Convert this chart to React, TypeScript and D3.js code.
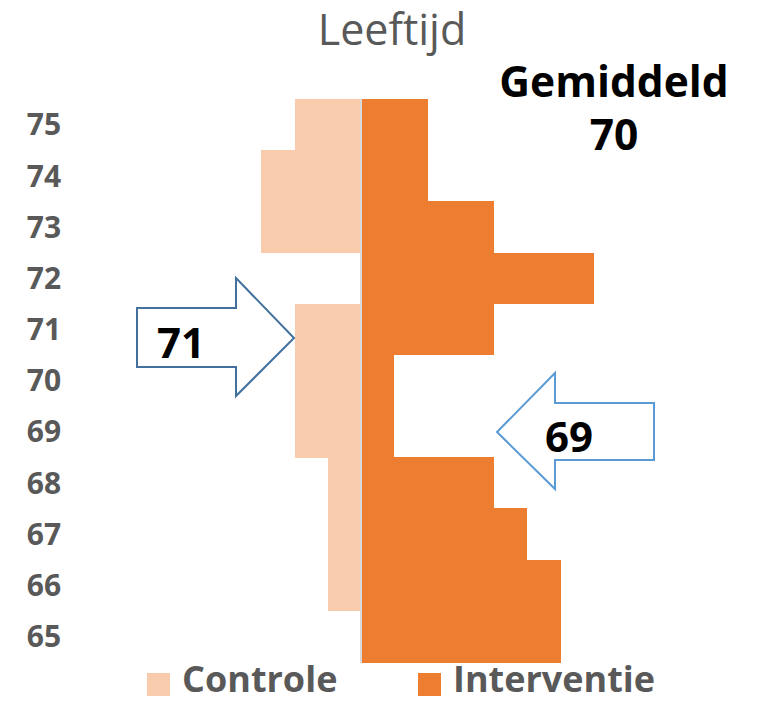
import * as d3 from "d3";

const WIDTH = 760;
const HEIGHT = 704;

const ages = [75, 74, 73, 72, 71, 70, 69, 68, 67, 66, 65];
const controle = [2, 3, 3, 0, 2, 2, 2, 1, 1, 1, 0];
const interventie = [2, 2, 4, 7, 4, 1, 1, 4, 5, 6, 6];

const seriesNames = ["Controle", "Interventie"];
const seriesColors = ["#F8CBAD", "#ED7D31"];

const title = "Leeftijd";
const meanLabel = "Gemiddeld";
const meanAll = "70";
const meanControle = "71";
const meanInterventie = "69";

const FONT = "'Open Sans', 'DejaVu Sans', sans-serif";
const GRAY = "#595959";

const Arrow = ({
  pts,
  stroke,
}: {
  pts: [number, number][];
  stroke: string;
}) => (
  <path
    d={d3.line()(pts) + "Z"}
    fill="#fff"
    stroke={stroke}
    strokeWidth={2}
    strokeLinejoin="miter"
  />
);

export default function App() {
  const x = d3
    .scaleLinear()
    .domain([-8, 8])
    .range([361 - 8 * 33.25, 361 + 8 * 33.25]);

  const y = d3
    .scaleBand<number>()
    .domain(ages)
    .range([99, 662])
    .padding(0);

  const x0 = x(0);

  return (
    <svg
      width={WIDTH}
      height={HEIGHT}
      style={{ position: "absolute", left: 0, top: 0 }}
      fontFamily={FONT}
    >
      <rect width={WIDTH} height={HEIGHT} fill="#fff" />

      {/* title */}
      <text x={392} y={45} textAnchor="middle" fontSize={43} fill={GRAY}>
        {title}
      </text>

      {/* bars */}
      <g shapeRendering="crispEdges">
        {ages.map((a, i) => (
          <g key={a}>
            {controle[i] > 0 && (
              <rect
                x={x(-controle[i])}
                y={y(a)!}
                width={x0 - x(-controle[i]) - 1}
                height={y.bandwidth() + 0.5}
                fill={seriesColors[0]}
              />
            )}
            {interventie[i] > 0 && (
              <rect
                x={x0 + 1}
                y={y(a)!}
                width={x(interventie[i]) - x0 - 1}
                height={y.bandwidth() + 0.5}
                fill={seriesColors[1]}
              />
            )}
          </g>
        ))}
      </g>

      {/* centre axis */}
      <line
        x1={x0}
        x2={x0}
        y1={99}
        y2={663}
        stroke="#D9D9D9"
        strokeWidth={2}
      />

      {/* age labels */}
      {ages.map((a) => (
        <text
          key={a}
          x={44}
          y={y(a)! + y.bandwidth() / 2}
          dy="0.36em"
          textAnchor="middle"
          fontSize={30}
          fontWeight={700}
          fill={GRAY}
        >
          {a}
        </text>
      ))}

      {/* mean annotation */}
      <text
        x={614}
        y={97}
        textAnchor="middle"
        fontSize={42.5}
        fontWeight={700}
        fill="#000"
      >
        {meanLabel}
      </text>
      <text
        x={614}
        y={150}
        textAnchor="middle"
        fontSize={42.5}
        fontWeight={700}
        fill="#000"
      >
        {meanAll}
      </text>

      {/* arrows */}
      <Arrow
        stroke="#41719C"
        pts={[
          [137, 308],
          [236, 308],
          [236, 278],
          [294, 338],
          [236, 396],
          [236, 367],
          [137, 367],
        ]}
      />
      <text
        x={181}
        y={358}
        textAnchor="middle"
        fontSize={42}
        fontWeight={700}
        fill="#000"
      >
        {meanControle}
      </text>

      <Arrow
        stroke="#5B9BD5"
        pts={[
          [654, 403],
          [555, 403],
          [555, 373],
          [497, 432],
          [555, 489],
          [555, 460],
          [654, 460],
        ]}
      />
      <text
        x={569}
        y={452}
        textAnchor="middle"
        fontSize={42}
        fontWeight={700}
        fill="#000"
      >
        {meanInterventie}
      </text>

      {/* legend */}
      {seriesNames.map((name, i) => {
        const lx = i === 0 ? 147 : 418;
        return (
          <g key={name}>
            <rect x={lx} y={673} width={23} height={23} fill={seriesColors[i]} />
            <text
              x={lx + 35}
              y={692}
              fontSize={36}
              fontWeight={700}
              fill={GRAY}
            >
              {name}
            </text>
          </g>
        );
      })}
    </svg>
  );
}
